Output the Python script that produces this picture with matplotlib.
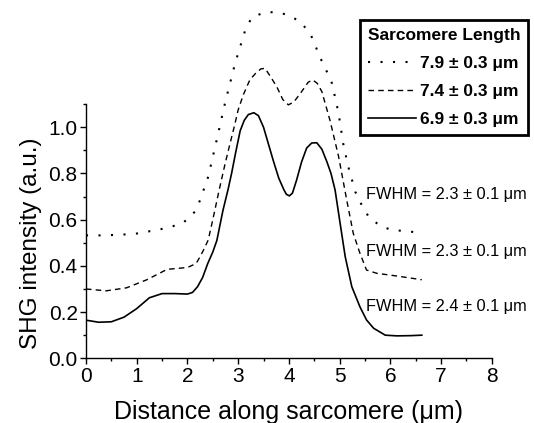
import numpy as np
import matplotlib
matplotlib.use('Agg')
import matplotlib.pyplot as plt
from matplotlib.ticker import MultipleLocator, FormatStrFormatter

plt.rcParams['font.family'] = ['Liberation Sans', 'DejaVu Sans']

# -------- DATA --------
x_79 = [0, 0.3, 0.7, 1.0, 1.46, 1.69, 1.92, 2.15, 2.25, 2.41, 2.58, 2.74, 2.94, 3.14, 3.27,
        3.53, 3.77, 4.0, 4.22, 4.42, 4.62, 4.75, 4.85, 4.98, 5.07, 5.17, 5.31, 5.42, 5.57,
        5.80, 6.03, 6.29, 6.52]
y_79 = [0.532, 0.532, 0.535, 0.54, 0.558, 0.57, 0.587, 0.635, 0.685, 0.786, 0.948, 1.104,
        1.277, 1.421, 1.476, 1.498, 1.498, 1.485, 1.457, 1.407, 1.30, 1.24, 1.19, 1.06, 0.93,
        0.83, 0.72, 0.67, 0.613, 0.573, 0.555, 0.551, 0.545]

x_74 = [0, 0.4, 0.8, 1.2, 1.6, 2.0, 2.17, 2.25, 2.32, 2.41, 2.5, 2.64, 2.74, 2.84, 2.92, 3.0,
        3.1, 3.23, 3.35, 3.45, 3.53, 3.62, 3.76, 3.88, 3.99, 4.1, 4.25, 4.38, 4.47, 4.56,
        4.65, 4.81, 4.98, 5.14, 5.27, 5.40, 5.53, 5.73, 6.13, 6.62]
y_74 = [0.30, 0.292, 0.305, 0.34, 0.385, 0.393, 0.41, 0.44, 0.47, 0.512, 0.60, 0.743, 0.84,
        0.93, 1.0, 1.075, 1.14, 1.205, 1.235, 1.253, 1.255, 1.225, 1.176, 1.12, 1.097, 1.11,
        1.154, 1.195, 1.205, 1.19, 1.154, 1.03, 0.873, 0.685, 0.54, 0.455, 0.382, 0.368,
        0.356, 0.34]

x_69 = [0, 0.25, 0.5, 0.75, 1.0, 1.25, 1.5, 1.75, 2.0, 2.1, 2.2, 2.3, 2.4, 2.5, 2.58, 2.7,
        2.8, 2.87, 2.95, 3.04, 3.12, 3.2, 3.31, 3.4, 3.5, 3.6, 3.7, 3.8, 3.9, 3.95, 4.01,
        4.07, 4.15, 4.25, 4.35, 4.45, 4.55, 4.65, 4.75, 4.83, 4.91, 5.01, 5.11, 5.24, 5.40,
        5.53, 5.67, 5.9, 6.13, 6.4, 6.62]
y_69 = [0.165, 0.156, 0.158, 0.178, 0.215, 0.262, 0.280, 0.280, 0.278, 0.285, 0.31, 0.35,
        0.41, 0.46, 0.51, 0.64, 0.73, 0.80, 0.89, 0.985, 1.03, 1.055, 1.063, 1.05, 1.00, 0.925,
        0.85, 0.78, 0.73, 0.71, 0.703, 0.715, 0.77, 0.85, 0.91, 0.932, 0.933, 0.905, 0.85,
        0.80, 0.729, 0.584, 0.44, 0.31, 0.223, 0.166, 0.13, 0.10, 0.097, 0.098, 0.10]

labels = ['7.9 ± 0.3 μm', '7.4 ± 0.3 μm', '6.9 ± 0.3 μm']
fwhm_text = ['FWHM = 2.3 ± 0.1 μm', 'FWHM = 2.3 ± 0.1 μm', 'FWHM = 2.4 ± 0.1 μm']
fwhm_y = [0.707, 0.461, 0.223]
# ----------------------------------------------

fig = plt.figure(figsize=(5.34, 4.23), dpi=100)
ax = fig.add_axes([0.161, 0.153, 0.760, 0.8465])

ax.plot(x_79, y_79, color='black', lw=1.5, linestyle=(0, (1, 5)), label=labels[0])
ax.plot(x_74, y_74, color='black', lw=1.0, linestyle=(0, (4, 3)), label=labels[1])
ax.plot(x_69, y_69, color='black', lw=1.2, linestyle='-', label=labels[2])

for t, yy in zip(fwhm_text, fwhm_y):
    ax.text(5.52, yy, t, fontsize=11.8, va='center', ha='left')

ax.set_xlim(0, 8)
ax.set_ylim(0, 1.55)
ax.spines['top'].set_visible(False)
ax.spines['right'].set_visible(False)
ax.spines['left'].set_bounds(0, 1.1)
ax.spines['left'].set_linewidth(1.0)
ax.spines['bottom'].set_linewidth(1.0)

ax.xaxis.set_major_locator(MultipleLocator(1))
ax.xaxis.set_minor_locator(MultipleLocator(0.5))
ax.set_yticks([0, 0.2, 0.4, 0.6, 0.8, 1.0])
ax.set_yticks(np.arange(0, 1.11, 0.1), minor=True)
ax.yaxis.set_major_formatter(FormatStrFormatter('%.1f'))
ax.tick_params(which='major', direction='out', length=4, width=1, labelsize=15, pad=2)
ax.tick_params(which='minor', direction='out', length=2.5, width=1)

ax.set_xlabel('Distance along sarcomere (μm)', fontsize=18)
ax.set_ylabel('SHG intensity (a.u.)', fontsize=17.5)
ax.xaxis.set_label_coords(0.5, -0.116)
ax.yaxis.set_label_coords(-0.108, 0.322)

leg = ax.legend(title='Sarcomere Length', loc='upper right',
                bbox_to_anchor=(528 / 534, 1 - 20 / 423), bbox_transform=fig.transFigure,
                borderaxespad=0, fancybox=False, prop={'size': 12.5, 'weight': 'bold'},
                title_fontproperties={'size': 12.5, 'weight': 'bold'},
                handlelength=2.8, handletextpad=0.2, labelspacing=0.75, borderpad=0.45,
                framealpha=1)
leg.get_frame().set_edgecolor('black')
leg.get_frame().set_linewidth(2)
leg._legend_box.align = 'left'

fig.savefig('out.png', dpi=100)
